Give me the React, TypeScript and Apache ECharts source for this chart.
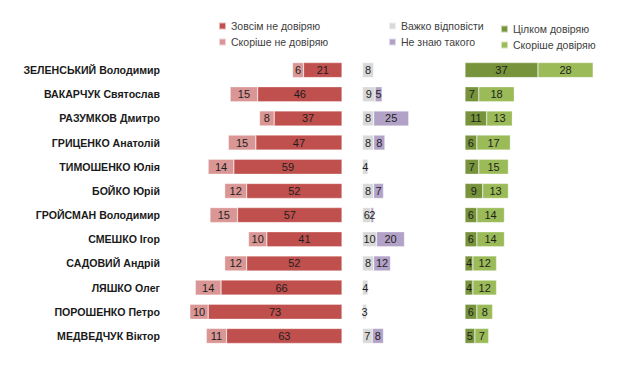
import React, { useEffect, useRef } from "react";
import * as echarts from "echarts";

const names = [
  "ЗЕЛЕНСЬКИЙ Володимир",
  "ВАКАРЧУК Святослав",
  "РАЗУМКОВ Дмитро",
  "ГРИЦЕНКО Анатолій",
  "ТИМОШЕНКО Юлія",
  "БОЙКО Юрій",
  "ГРОЙСМАН Володимир",
  "СМЕШКО Ігор",
  "САДОВИЙ Андрій",
  "ЛЯШКО Олег",
  "ПОРОШЕНКО Петро",
  "МЕДВЕДЧУК Віктор",
];
const totallyDistrust = [21, 46, 37, 47, 59, 52, 57, 41, 52, 66, 73, 63];
const ratherDistrust = [6, 15, 8, 15, 14, 12, 15, 10, 12, 14, 10, 11];
const hardToSay = [8, 9, 8, 8, 4, 8, 6, 10, 8, 4, 3, 7];
const dontKnow = [0, 5, 25, 8, 0, 7, 2, 20, 12, 0, 0, 8];
const fullyTrust = [37, 7, 11, 6, 7, 9, 6, 6, 4, 4, 6, 5];
const ratherTrust = [28, 18, 13, 17, 15, 13, 14, 14, 12, 12, 8, 7];

const seriesNames = [
  "Зовсім не довіряю",
  "Скоріше не довіряю",
  "Важко відповісти",
  "Не знаю такого",
  "Цілком довіряю",
  "Скоріше довіряю",
];
const colors = ["#c0504d", "#d99694", "#d9d9d9", "#b3a2c7", "#77933c", "#9bbb59"];

export default function App() {
  const ref = useRef<HTMLDivElement>(null);
  useEffect(() => {
    if (!ref.current) return;
    const chart = echarts.init(ref.current, null, { renderer: "svg" });
    const font = "'Liberation Sans', Arial, sans-serif";
    const label = {
      show: true,
      position: "inside" as const,
      color: "#1e1e1e",
      fontSize: 11,
      fontFamily: font,
      formatter: (p: any) => (p.value ? String(p.value) : ""),
    };
    const top = 58;
    const height = 290;
    const grids = [
      { left: 177, top, width: 165, height },
      { left: 362.5, top, width: 70, height },
      { left: 465, top, width: 138, height },
    ];
    const mkBar = (name: string, data: number[], idx: number, stack: string, color: string) => ({
      type: "bar",
      name,
      data,
      xAxisIndex: idx,
      yAxisIndex: idx,
      stack,
      barWidth: 15,
      itemStyle: { color, borderColor: "rgba(255,255,255,0.6)", borderWidth: 0.5 },
      label,
    });
    const legendText = { color: "#404040", fontSize: 10.5, fontFamily: font, lineHeight: 12 };
    const mkLegend = (left: number, top: number, data: string[]) => ({
      left,
      top,
      orient: "vertical",
      itemWidth: 7,
      itemHeight: 7,
      itemGap: 4,
      padding: 0,
      icon: "rect",
      textStyle: legendText,
      data,
    });
    const option: any = {
      animation: false,
      backgroundColor: "#ffffff",
      color: colors,
      legend: [
        mkLegend(218, 20, [seriesNames[0], seriesNames[1]]),
        mkLegend(388, 20, [seriesNames[2], seriesNames[3]]),
        mkLegend(500, 23, [seriesNames[4], seriesNames[5]]),
      ],
      grid: grids,
      xAxis: [
        { gridIndex: 0, type: "value", min: 0, max: 90, inverse: true, show: false },
        { gridIndex: 1, type: "value", min: 0, max: 50, show: false },
        { gridIndex: 2, type: "value", min: 0, max: 70, show: false },
      ],
      yAxis: [0, 1, 2].map((i) => ({
        gridIndex: i,
        type: "category",
        data: names,
        inverse: true,
        position: "left",
        axisLine: { show: false },
        axisTick: { show: false },
        splitLine: { show: false },
        axisLabel:
          i === 0
            ? {
                show: true,
                margin: 17,
                color: "#1a1a1a",
                fontWeight: "bold",
                fontSize: 10.6,
                fontFamily: font,
              }
            : { show: false },
      })),
      series: [
        mkBar(seriesNames[0], totallyDistrust, 0, "neg", colors[0]),
        mkBar(seriesNames[1], ratherDistrust, 0, "neg", colors[1]),
        mkBar(seriesNames[2], hardToSay, 1, "mid", colors[2]),
        mkBar(seriesNames[3], dontKnow, 1, "mid", colors[3]),
        mkBar(seriesNames[4], fullyTrust, 2, "pos", colors[4]),
        mkBar(seriesNames[5], ratherTrust, 2, "pos", colors[5]),
      ],
    };
    chart.setOption(option);
    return () => chart.dispose();
  }, []);
  return <div ref={ref} style={{ width: 620, height: 373, position: "absolute", left: 0, top: 0 }} />;
}
